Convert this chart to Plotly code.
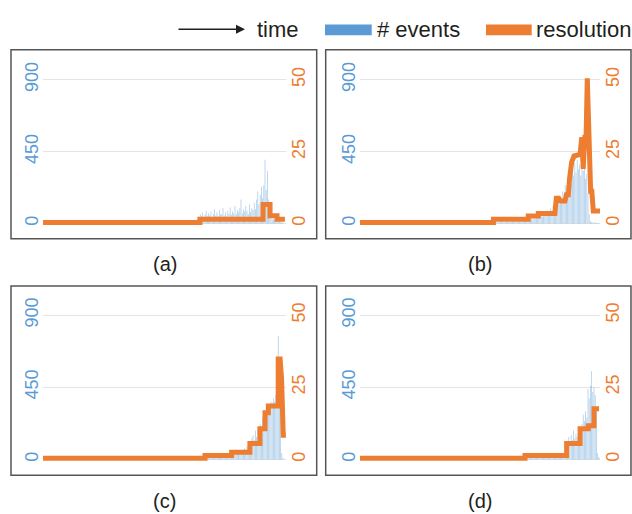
import plotly.graph_objects as go

W, H = 632, 514
BLUE = "#5B9BD5"
ORANGE = "#ED7D31"
FONT = "Liberation Sans, Arial, sans-serif"

# ---------------- data ----------------
panel_labels = ["(a)", "(b)", "(c)", "(d)"]
event_ticks = [0, 450, 900]
res_ticks = [0, 25, 50]
legend_labels = ["time", "# events", "resolution"]

# number of events per time bin (bins of 0.5 time units, starting at events_start)
events_start = [64, 50, 60, 60]
events_step = 0.5

events_a = [20, 35, 30, 60, 45, 70, 40, 55, 80, 45, 65, 50, 75, 40, 60, 90, 50, 70, 45, 85,
            55, 60, 95, 50, 70, 45, 80, 60, 100, 55, 75, 65, 110, 60, 85, 70, 95, 150, 65, 90,
            75, 110, 80, 60, 120, 70, 95, 85, 130, 90, 150, 200, 120, 180, 230, 160, 240, 400, 210, 330,
            150, 90, 40, 25, 30, 20, 15, 20, 10, 15, 8, 10, 5]

events_b = [2, 3, 2, 4, 3, 2, 5, 3, 4, 2, 3,
            5, 8, 6, 10, 7, 12, 8, 9, 14, 10, 8, 12, 15, 10, 9, 13, 11, 16, 12,
            14, 18, 12, 20, 16, 22, 15, 25, 18, 20, 28, 22, 26, 30,
            25, 35, 28, 40, 32, 45, 38, 50, 42, 60, 48, 70,
            55, 80, 65, 95, 75, 110, 90, 130, 100, 150, 120, 170,
            140, 200, 160, 240, 190, 280, 220, 320, 250, 350, 300, 380,
            320, 400, 340, 370, 300, 390, 330, 360, 280, 310,
            190, 60, 15, 8, 5, 10, 4, 6, 3, 2]

events_c = [2, 3, 2, 4, 3, 5, 3, 4, 6, 3, 5, 4, 6, 5, 8,
            10, 15, 12, 18, 14, 20, 16, 22, 18, 25, 20, 28, 22, 26, 30, 24,
            28, 35, 30, 40, 32, 45, 38, 42, 36, 48, 40, 50, 44, 55,
            50, 60, 55, 70, 62, 80, 75, 100, 90, 130,
            150, 120, 180, 140, 200, 170, 220, 190,
            260, 230, 300, 270, 320, 340, 300, 360,
            350, 380, 360, 400, 420, 770,
            630, 300, 40, 10]

events_d = [2, 3, 2, 3, 4, 2, 3, 5, 3, 4, 3, 5, 4, 6, 4, 5, 6,
            12, 18, 14, 20, 16, 22, 15, 24, 18, 20, 26, 19, 22, 28, 21, 25,
            20, 28, 24, 30, 22, 32, 26, 34, 28, 30, 36, 27, 33, 38, 30, 35, 40, 32, 38, 45,
            90, 140, 110, 150, 120, 180, 130, 160, 140, 170, 150, 190,
            220, 280, 240, 300, 260, 440, 380, 460,
            550, 420, 450, 400, 300, 40, 15, 8]

# resolution (read as time / value points of the line)
res_a_t = [0, 65.4, 65.4, 91.7, 91.7, 94.6, 94.6, 97.5, 97.5, 100.8]
res_a_v = [0.4, 0.4, 1.5, 1.5, 6.6, 6.6, 2.7, 2.7, 1.5, 1.5]

res_b_t = [0, 55.6, 55.6, 70.1, 70.1, 74.3, 74.3, 81.2, 81.8, 82.8, 83.5, 85.4, 86.0, 86.8,
           87.3, 88.2, 89.2, 91.7, 92.4, 93.0, 93.7, 94.2, 94.7, 95.4, 96.1, 96.6, 97.2, 100]
res_b_v = [0.4, 0.4, 1.5, 1.5, 2.6, 2.6, 3.5, 3.5, 8.8, 8.8, 7.8, 7.8, 10, 10,
           15.6, 21.4, 23.5, 24, 30, 19, 30, 30, 50.5, 28, 11.2, 11.2, 4.4, 4.4]

res_c_t = [0, 67.5, 67.5, 78.6, 78.6, 86.2, 86.2, 90.4, 90.4, 92.5, 92.5, 93.9, 93.9, 98.0,
           98.0, 98.8, 99.4, 100.1, 101.2]
res_c_v = [0.4, 0.4, 1.4, 1.4, 2.5, 2.5, 5.5, 5.5, 10.6, 10.6, 16.2, 16.2, 18.5, 18.5,
           34.8, 34.8, 28, 8.4, 8.4]

res_d_t = [0, 68.75, 68.75, 86.1, 86.1, 91.7, 91.7, 95.1, 95.1, 97.5, 97.5, 99.6]
res_d_v = [0.4, 0.4, 1.4, 1.4, 5.5, 5.5, 10.6, 10.6, 11.7, 11.7, 17.6, 17.6]

events_all = [events_a, events_b, events_c, events_d]
res_t_all = [res_a_t, res_b_t, res_c_t, res_d_t]
res_v_all = [res_a_v, res_b_v, res_c_v, res_d_v]

# ---------------- layout geometry (pixels) ----------------
# x domain (px) and x range per panel
x_dom_px = [(43, 286), (360, 600), (43, 286), (360, 600)]
x_rng = [(0, 101.25), (0, 100), (0, 101.25), (0, 100)]
# y positions (px) of value 0 and 900 per panel
y0_px = [216, 216, 458, 458]
y900_px = [68.5, 68.5, 310, 310]
ev_lo, ev_hi = -30, 930
# panel border boxes (px)
boxes = [(11, 37.7, 316.7, 231.7), (325.7, 37.7, 631, 231.7),
         (11, 280, 316.7, 474.3), (325.7, 280, 631, 474.3)]
label_pos = [(164.5, 258), (480, 258), (164.5, 501), (480, 501)]


def px_x(p):
    return p / W


def px_y(p):
    return 1 - p / H


fig = go.Figure()
layout = dict(
    width=W, height=H, margin=dict(l=0, r=0, t=0, b=0),
    paper_bgcolor="white", plot_bgcolor="white", showlegend=False,
    font=dict(family=FONT),
    shapes=[], annotations=[],
)

for i in range(4):
    xn = "x" if i == 0 else f"x{i+1}"
    yl = 2 * i + 1
    yr = 2 * i + 2
    yln = "y" if yl == 1 else f"y{yl}"
    yrn = f"y{yr}"

    ev = events_all[i]
    xs = [events_start[i] + k * events_step for k in range(len(ev))]
    fig.add_trace(go.Bar(x=xs, y=ev, xaxis=xn, yaxis=yln, width=0.3,
                         marker=dict(color="rgba(91,155,213,0.55)", line=dict(width=0)),
                         name="# events"))
    fig.add_trace(go.Scatter(x=res_t_all[i], y=res_v_all[i], xaxis=xn, yaxis=yrn,
                             mode="lines", line=dict(color=ORANGE, width=5),
                             name="resolution"))

    # pixel -> domain
    ppu = (y0_px[i] - y900_px[i]) / 900.0
    bot = y0_px[i] - (ev_lo) * ppu
    top = y0_px[i] - (ev_hi) * ppu
    ydom = [px_y(bot), px_y(top)]
    xdom = [px_x(x_dom_px[i][0]), px_x(x_dom_px[i][1])]

    xkey = "xaxis" if i == 0 else f"xaxis{i+1}"
    ylkey = "yaxis" if yl == 1 else f"yaxis{yl}"
    yrkey = f"yaxis{yr}"
    layout[xkey] = dict(domain=xdom, range=list(x_rng[i]), anchor=yln,
                        visible=False, fixedrange=True)
    layout[ylkey] = dict(domain=ydom, range=[ev_lo, ev_hi], anchor=xn,
                         tickvals=event_ticks, ticktext=[str(v) for v in event_ticks],
                         tickangle=-90, tickfont=dict(color=BLUE, size=18, family=FONT),
                         showgrid=True, gridcolor="#e4e4e4", gridwidth=1,
                         zeroline=False, showline=False, ticks="")
    layout[yrkey] = dict(range=[ev_lo / 18.0, ev_hi / 18.0], anchor=xn,
                         overlaying=yln, side="right",
                         tickvals=res_ticks, ticktext=[str(v) for v in res_ticks],
                         tickangle=-90, tickfont=dict(color=ORANGE, size=18, family=FONT),
                         showgrid=False, zeroline=False, showline=False, ticks="")

    bx = boxes[i]
    layout["shapes"].append(dict(type="rect", xref="paper", yref="paper",
                                 x0=px_x(bx[0]), x1=px_x(bx[2]),
                                 y0=px_y(bx[3]), y1=px_y(bx[1]),
                                 line=dict(color="#555555", width=1.5)))
    lx, ly = label_pos[i]
    layout["annotations"].append(dict(text=panel_labels[i], xref="paper", yref="paper",
                                      x=px_x(lx), y=px_y(ly), showarrow=False,
                                      xanchor="center", yanchor="middle",
                                      font=dict(size=20, color="#231f20", family=FONT)))

# ---------------- legend (drawn manually) ----------------
ly = 16.7
layout["annotations"].append(dict(text="", xref="paper", yref="paper",
                                  x=px_x(245), y=px_y(ly), ax=-68, ay=0,
                                  showarrow=True, arrowhead=2, arrowsize=1.2,
                                  arrowwidth=1.5, arrowcolor="#231f20"))
for txt, xp in zip(legend_labels, [255, 375, 534]):
    layout["annotations"].append(dict(text=txt, xref="paper", yref="paper",
                                      x=px_x(xp), y=px_y(ly), showarrow=False,
                                      xanchor="left", yanchor="middle",
                                      font=dict(size=22, color="#231f20", family=FONT)))
for col, (x0, x1) in zip([BLUE, ORANGE], [(325, 371.7), (486, 531.7)]):
    layout["shapes"].append(dict(type="rect", xref="paper", yref="paper",
                                 x0=px_x(x0), x1=px_x(x1), y0=px_y(22.7), y1=px_y(11.7),
                                 fillcolor=col, line=dict(width=0)))

fig.update_layout(**layout)
fig.write_html("out.html")
